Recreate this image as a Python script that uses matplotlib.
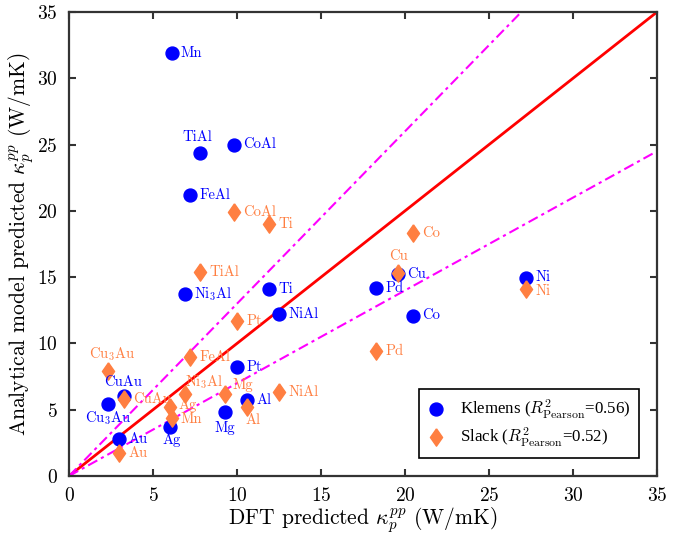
import numpy as np
import matplotlib
matplotlib.use("Agg")
import matplotlib.pyplot as plt

plt.rcParams["font.family"] = ["cmr10", "DejaVu Serif"]
plt.rcParams["mathtext.fontset"] = "cm"
plt.rcParams["axes.formatter.use_mathtext"] = True

# ----------------------------
# Data
# ----------------------------
materials = ["Mn", "TiAl", "CoAl", "FeAl", "Ni$_3$Al", "Ti", "NiAl", "Pd", "Cu",
             "Co", "Ni", "Pt", "CuAu", "Cu$_3$Au", "Al", "Mg", "Au", "Ag"]
dft_kappa = [6.1, 7.8, 9.8, 7.2, 6.9, 11.9, 12.5, 18.3, 19.6,
             20.5, 27.2, 10.0, 3.3, 2.3, 10.6, 9.3, 3.0, 6.0]
klemens_kappa = [31.9, 24.4, 25.0, 21.2, 13.7, 14.1, 12.2, 14.2, 15.2,
                 12.1, 14.9, 8.2, 6.0, 5.4, 5.7, 4.8, 2.8, 3.7]
slack_kappa = [4.4, 15.4, 19.9, 9.0, 6.2, 19.0, 6.3, 9.4, 15.3,
               18.3, 14.1, 11.7, 5.8, 7.9, 5.2, 6.2, 1.7, 5.2]
r2_klemens = 0.56
r2_slack = 0.52
band_slopes = [1.3, 0.7]
axis_max = 35

BLUE = "#0000FF"
ORANGE = "#FF7F41"
DIAMOND = [(0, 1), (0.7, 0), (0, -1), (-0.7, 0), (0, 1)]

# label placement: offset in points, horizontal alignment
right = ((6.5, 0), "left")
klemens_pos = {
    "TiAl": ((-2, 11), "center"),
    "CuAu": ((-1, 10), "center"),
    "Cu$_3$Au": ((0, -10), "center"),
    "Mg": ((0, -11.5), "center"),
    "Ag": ((1, -9.5), "center"),
    "Ni": ((6.5, 1), "left"),
}
slack_pos = {
    "Ni$_3$Al": ((0, 8.5), "left"),
    "Cu": ((0, 12), "center"),
    "Cu$_3$Au": ((3, 12), "center"),
    "Al": ((4, -9.5), "center"),
    "Mg": ((5.5, 6), "left"),
    "Ni": ((6.5, -1.5), "left"),
    "Ag": ((6.5, 1.2), "left"),
    "Mn": ((6.5, -1.2), "left"),
}

fig = plt.figure(figsize=(6.93, 5.40), dpi=100)
ax = fig.add_axes([0.0996, 0.1185, 0.8485, 0.8593])

xx = np.array([0, axis_max])
ax.plot(xx, xx, color="#FF0000", lw=2, zorder=2)
for s in band_slopes:
    ax.plot(xx, s * xx, color="#FF00FF", lw=1.5, ls=(0, (5, 2, 1.5, 2)), zorder=2)

ax.plot(dft_kappa, klemens_kappa, "o", color=BLUE, ms=9.3, ls="none", zorder=3,
        label=r"Klemens ($R^2_{\mathrm{Pearson}}$=%.2f)" % r2_klemens)
ax.plot(dft_kappa, slack_kappa, marker=DIAMOND, color=ORANGE, ms=12.5, ls="none",
        zorder=4, label=r"Slack ($R^2_{\mathrm{Pearson}}$=%.2f)" % r2_slack)

for name, x, yk, ys in zip(materials, dft_kappa, klemens_kappa, slack_kappa):
    off, ha = klemens_pos.get(name, right)
    ax.annotate(name, (x, yk), xytext=off, textcoords="offset points",
                ha=ha, va="center", color=BLUE, fontsize=10.5, zorder=5)
    off, ha = slack_pos.get(name, right)
    ax.annotate(name, (x, ys), xytext=off, textcoords="offset points",
                ha=ha, va="center", color=ORANGE, fontsize=10.5, zorder=5)

ax.set_xlim(0, axis_max)
ax.set_ylim(0, axis_max)
ax.set_xticks(np.arange(0, 36, 5))
ax.set_yticks(np.arange(0, 36, 5))
ax.tick_params(direction="in", length=5, width=1.5, labelsize=14, color="#333333",
               top=True, right=True, pad=8)
for sp in ax.spines.values():
    sp.set_linewidth(1.6)
    sp.set_color("#333333")

ax.set_xlabel(r"DFT predicted $\kappa_p^{pp}$ (W/mK)", fontsize=15.5, labelpad=0)
ax.set_ylabel(r"Analytical model predicted $\kappa_p^{pp}$ (W/mK)", fontsize=15.5,
              labelpad=1)

leg = ax.legend(loc="lower right", bbox_to_anchor=(0.969, 0.039), borderaxespad=0,
                frameon=True, fancybox=False, edgecolor="black", framealpha=1,
                handlelength=1.0, handletextpad=0.9, borderpad=0.5, labelspacing=0.3,
                prop={"family": ["Liberation Serif"], "size": 12.2})
leg.get_frame().set_linewidth(1.2)

fig.savefig("out.png", dpi=100)
